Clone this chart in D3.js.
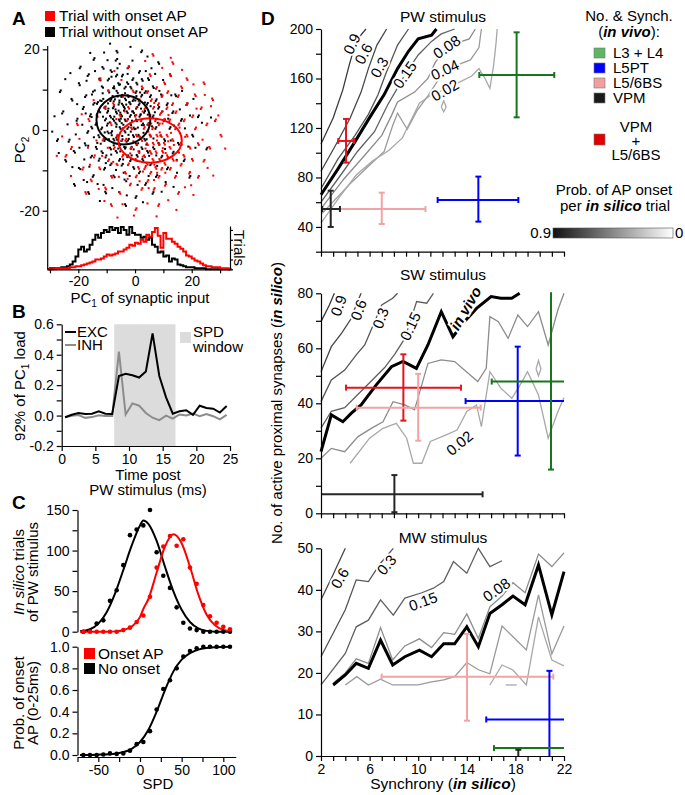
<!DOCTYPE html>
<html>
<head>
<meta charset="utf-8">
<script src="https://cdn.jsdelivr.net/npm/d3@7"></script>
<style>
  body { margin: 0; background: #fff; }
  svg text { font-family: "Liberation Sans", Arial, sans-serif; fill: #000; }
</style>
</head>
<body>
<svg id="fig" width="685" height="795"></svg>
<script>
/* global d3 */

// ---------- panel A : PC1 / PC2 scatter + histograms ----------
const blackPts = `-25.3,4.6 -23.1,-2.4 -22.4,7.7 -21.2,-5.6 -20.6,2.3 -19.8,11.6 -19.3,-9.7 -18.4,5.2 -17.7,-3.3 -17.2,8.6 -16.8,-0.7 -16.3,13.8 -15.9,3.4 -15.6,-6.8 -15.1,0.4 -14.7,6.3 -14.9,-11.6 -14.2,9.8 -13.8,-4.2 -13.6,1.7 -13.1,6.9 -12.8,-7.6 -12.6,12.7 -12.9,-1.3 -12.3,4.4 -11.8,-5.3 -11.7,10.8 -11.9,0.2 -11.5,15.6 -11.2,7.7 -10.8,-2.7 -10.6,2.4 -10.9,-9.8 -10.4,5.8 -10.1,-6.3 -9.9,1.1 -9.6,12.3 -9.8,4.3 -9.3,-0.8 -9.1,9.3 -8.8,-4.4 -8.7,7.2 -8.5,3.1 -8.6,14.8 -8.3,-8.3 -8.1,-0.3 -7.8,5.4 -7.6,-2.2 -7.7,10.4 -7.4,2.3 -7.2,-11.7 -7.1,7.6 -6.8,-5.2 -6.7,13.3 -6.5,1.4 -6.4,4.1 -6.2,-1.4 -6.1,9.2 -6.3,17.6 -5.8,6.3 -5.7,-3.3 -5.6,11.2 -5.4,2.2 -5.3,-7.2 -5.1,0.3 -5.2,4.3 -4.8,8.2 -4.7,-8.8 -4.6,3.4 -4.4,-2.3 -4.3,13.7 -4.2,6.1 -4.1,1.3 -3.8,-4.2 -3.7,10.3 -3.6,5.3 -3.4,-0.6 -3.3,2.2 -3.2,7.4 -3.1,-12.7 -2.8,11.8 -2.7,0.3 -2.6,4.2 -2.4,-6.3 -2.3,8.2 -2.2,-2.2 -2.1,15.7 -1.8,3.3 -1.7,-7.7 -1.6,6.4 -1.4,1.2 -1.3,10.3 -1.2,-4.2 -0.8,7.2 -0.7,-1.3 -0.6,12.8 -0.4,4.2 -0.3,-9.6 -0.2,0.2 0.2,9.2 0.3,-3.3 0.4,5.3 0.6,-6.2 0.7,2.2 0.8,11.3 1.2,-1.2 1.3,6.2 1.4,-10.7 1.6,3.3 1.7,14.6 2.2,8.3 2.3,-4.3 2.4,1.2 2.6,-7.2 2.7,12.2 3.2,4.3 3.3,-2.2 3.4,9.2 3.6,-13.6 4.2,6.3 4.3,-5.2 4.4,1.3 4.6,12.8 5.2,-1.2 5.3,8.2 5.4,-8.7 6.2,3.2 6.3,10.8 6.4,-4.3 7.2,0.3 7.3,7.2 7.4,-11.6 8.2,5.3 8.3,-3.2 9.2,8.8 9.3,-6.8 10.2,2.2 10.3,-2.3 11.2,6.2 11.3,-9.7 12.2,0.3 13.2,4.2 13.3,-5.8 14.2,8.8 15.2,-3.2 16.2,2.3 17.2,-7.7 18.2,6.2 20.2,-1.2 22.2,3.2 -27.2,-2.3 -24.3,-7.8 -19.2,15.7 -14.3,17.8 -6.2,19.2 2.2,19.3 8.2,16.8 12.3,13.8 -21.2,-13.8 -10.2,-15.7 0.2,-16.8 6.2,-15.8 -26.2,9.8 25.2,-4.8 19.2,-11.8 -16.2,-15.8 -3.2,-18.8 -9.4,5.3 -8.2,-1.3 -7.3,3.3 -6.1,8.3 -5.2,-5.3 -4.3,0.4 -3.1,6.3 -2.3,-1.2 -1.1,2.3 0.1,7.3 1.1,-3.3 -11.3,3.3 -6.3,-2.4 -3.3,-4.3 -7.3,10.3 -2.2,8.4 -12.3,7.3 -9.2,-2.3 -5.3,11.3 0.2,0.3 -4.2,-7.3 3.1,1.2 -13.3,-3.2 -8.3,13.2 -1.2,-6.3 -15.3,3.2 -10.3,-8.2 2.1,5.3 -6.2,15.3 4.1,-2.3
-18.6,1.3 -17.4,4.1 -16.5,-3.9 -15.2,8.8 -14.5,-1.8 -13.4,3.9 -12.1,-3.4 -11.4,9.1 -10.7,-0.6 -9.5,6.6 -8.9,1.9 -8.4,-6.1 -7.9,8.4 -7.5,-3.8 -6.9,5.1 -6.6,0.8 -5.9,-4.6 -5.5,7.3 -5.0,2.8 -4.5,-1.5 -3.9,4.8 -3.5,9.1 -3.0,-2.9 -2.5,2.7 -2.0,6.9 -1.5,-0.4 -1.0,4.6 -0.5,-4.8 0.0,3.6 0.5,8.4 1.0,0.6 1.5,-5.3 2.0,3.9 2.5,10.1 3.0,-0.7 3.5,6.8 4.0,-3.6 4.5,3.8 5.0,-6.4 5.5,5.9 6.0,0.9 6.5,-2.1 7.0,4.4 7.5,-6.3 8.0,1.8 8.6,9.7 9.0,-1.4 9.7,4.6 10.6,-4.7 11.7,2.8 12.6,-2.6 13.8,1.1 14.7,-7.4 15.8,5.1 17.6,0.4 19.4,3.6 21.3,-4.4 23.6,1.8 -23.8,1.4 -22.1,-9.2 -20.4,6.4 -19.6,-4.4 -18.1,-12.4 -17.1,12.2 -16.1,-9.1 -14.1,14.6 -13.2,-13.4 -11.1,-13.6 -9.7,17.3 -8.0,-14.4 -6.7,-9.9 -5.4,16.4 -4.0,-10.6 -2.6,13.9 -1.9,-11.4 -0.9,17.2 0.9,-13.6 1.8,9.3 3.8,14.6 4.8,-11.4 5.8,15.3 7.8,-8.9 9.9,12.4 10.8,-12.9 12.8,8.6 14.8,-10.6 16.6,9.7 18.8,-4.1 20.6,7.7 -28.4,3.4 -26.9,-5.7 -24.6,12.6 -22.8,14.1 -10.9,19.2 -1.6,20.6 4.4,18.2 -15.8,19.1 -8.8,21.4 9.4,-15.3 -12.4,-17.6 -5.6,-15.4 2.8,-17.9 13.6,-14.1 26.8,3.1 -29.2,-0.4 -2.9,-16.2 7.1,13.9 -17.9,-7.3 -20.9,-1.1 -16.9,-12.9
-25.7,4.1 -23.4,-2.9 -22.1,7.3 -21.6,-5.2 -20.3,2.8 -19.5,11.1 -19.8,-9.4 -18.1,5.7 -17.4,-3.8 -17.6,8.2 -16.5,-0.3 -16.7,13.4 -15.6,3.9 -15.2,-6.4 -15.4,0.8 -14.3,6.7 -14.6,-11.2 -14.8,9.5 -13.5,-4.7 -13.9,1.3 -13.4,6.5 -12.5,-7.1 -12.2,12.3 -12.6,-1.8 -12.7,4.8 -11.4,-5.7 -11.3,10.5 -11.6,0.6 -11.1,15.2 -11.8,7.2 -10.5,-2.3 -10.2,2.8 -10.6,-9.4 -10.8,5.5 -10.4,-6.8 -9.6,1.6 -9.2,12.7 -9.5,4.7 -9.7,-0.4 -9.4,9.8 -8.5,-4.8 -8.4,7.6 -8.8,3.5 -8.2,14.4 -8.7,-8.7 -8.4,-0.7 -7.5,5.8 -7.3,-2.6 -7.4,10.8 -7.8,2.7 -7.6,-11.3 -7.5,7.1 -6.4,-5.6 -6.3,13.7 -6.9,1.8 -6.7,4.5 -6.6,-1.9 -6.5,9.7 -6.8,17.2 -5.5,6.8 -5.3,-3.7 -5.9,11.6 -5.7,2.6 -5.6,-7.6 -5.4,0.7 -5.8,4.8 -4.5,8.7 -4.3,-8.4 -4.9,3.8 -4.8,-2.7 -4.6,13.3 -4.6,6.5 -4.7,1.7 -3.5,-4.6 -3.3,10.7 -3.9,5.7 -3.7,-0.2 -3.6,2.6 -3.5,7.8 -3.7,-12.3 -2.4,11.4 -2.3,0.7 -2.9,4.6 -2.7,-6.7 -2.6,8.6 -2.5,-2.6 -2.6,15.3 -1.5,3.7 -1.4,-7.3 -1.9,6.8 -1.7,1.6 -1.6,10.7 -1.5,-4.6 -0.5,7.6 -0.4,-1.7 -0.9,12.4 -0.7,4.6 -0.6,-9.2 -0.5,0.6 0.5,9.6 0.6,-3.7 0.8,5.7 0.9,-6.6 0.4,2.6 0.5,11.7 1.5,-1.6 1.6,6.6 1.8,-10.3 1.9,3.7 1.4,14.2 2.5,8.7 2.6,-4.7 2.8,1.6 2.9,-7.6 2.4,12.6 3.5,4.7 3.6,-2.6 3.8,9.6 3.9,-13.2 4.5,6.7 4.6,-5.6 4.8,1.7 4.9,12.4 5.5,-1.6 5.6,8.6 5.8,-8.3 6.5,3.6 6.6,10.4 6.8,-4.7 7.5,0.7 7.6,7.6 7.8,-11.2 8.5,5.7 8.6,-3.6 9.5,8.4 9.6,-6.4 10.5,2.6 10.6,-2.7 11.5,6.6 11.6,-9.3 12.5,0.7 13.5,4.6 13.6,-5.4 14.5,8.4 15.5,-3.6 16.5,2.7 17.5,-7.3 18.5,6.6 20.5,-1.6 22.5,3.6 -27.5,-2.7 -24.6,-7.4 -19.5,15.3 -14.6,17.4 -6.5,19.6 2.5,19.7 8.5,16.4 12.6,13.4 -21.5,-13.4 -10.5,-15.3 0.5,-16.4 6.5,-15.4 -26.5,9.4 25.5,-4.4 19.5,-11.4 -16.5,-15.4 -3.5,-18.4`
const redPts = `-22.3,-4.2 -18.2,-9.3 -16.1,2.2 -15.3,-12.7 -14.2,-6.3 -13.2,3.3 -12.3,-9.7 -11.1,-2.2 -10.2,-14.7 -10.4,5.2 -9.2,-7.3 -8.3,1.2 -8.1,-11.8 -7.2,-4.3 -7.4,6.2 -6.2,-8.7 -6.1,-1.2 -5.2,-15.8 -5.1,3.3 -4.2,-6.2 -4.3,8.2 -3.2,-10.8 -3.1,-2.2 -2.9,2.2 -2.2,-8.3 -2.1,5.3 -1.8,-13.7 -1.2,-4.3 -1.1,0.2 -0.8,9.8 0.2,-7.2 0.3,-11.7 0.1,3.3 0.4,-1.2 1.2,-5.3 1.3,7.2 1.1,-9.2 2.2,-2.3 2.1,2.2 2.3,-14.8 2.4,10.8 3.2,-6.3 3.3,-9.7 3.1,0.3 3.4,5.2 4.2,-3.3 4.1,-8.2 4.3,9.2 4.4,-12.8 4.6,1.2 5.2,-5.2 5.1,3.3 5.3,-1.2 5.4,-10.8 5.6,7.2 5.2,13.8 6.2,-7.2 6.1,0.2 6.3,-3.2 6.4,5.3 6.6,-14.8 7.2,-9.2 7.1,2.2 7.3,-5.3 7.4,10.2 7.6,-1.2 8.2,-3.3 8.1,6.2 8.3,-11.8 8.4,1.2 8.6,-7.2 9.2,4.2 9.1,-1.3 9.3,-9.8 9.4,8.2 9.6,-5.2 10.2,-3.2 10.1,2.3 10.3,11.8 10.4,-8.2 10.6,-13.8 11.2,-1.2 11.1,5.2 11.3,-6.3 11.4,9.2 12.2,-4.2 12.1,2.2 12.3,-9.8 12.4,13.8 13.2,-2.3 13.1,6.2 13.3,-7.2 14.2,0.2 14.1,-11.8 14.3,4.2 15.2,-5.2 15.1,8.2 15.3,1.2 16.2,-3.2 16.1,-8.8 16.3,10.8 17.2,2.2 17.1,-6.2 18.2,-1.2 18.1,6.2 19.2,-4.2 19.1,-10.8 20.2,3.2 20.1,-7.2 21.2,0.2 21.1,8.8 22.2,-3.3 23.2,5.2 24.2,-7.8 25.2,1.2 26.2,-4.2 28.2,2.2 -20.2,1.2 -17.2,-15.8 -8.2,-18.8 0.2,-19.8 8.2,-18.8 15.2,-15.8 22.2,-11.8 18.2,12.8 27.2,7.8 30.2,-1.2 -24.2,-6.2 -12.2,12.8 -2.2,15.8 13.2,16.8 24.2,11.8 6.2,18.8
3.7,-4.6 5.8,-5.9 7.7,-2.6 9.8,-4.5 4.7,-0.4 6.8,-8.6 8.7,-0.6 10.8,-5.7 2.7,-6.6 11.7,-2.8 5.7,1.6 7.8,-10.6 12.7,-0.7 1.7,-1.7 6.7,-12.4 9.7,1.6 13.7,-3.7 3.8,-8.9 8.8,3.8 14.7,-7.6 0.7,-3.6 10.7,-10.6 15.7,0.6 4.8,-14.4 11.8,3.7 -1.7,-5.8 17.7,-1.7 6.8,6.7 2.7,4.6 12.8,-6.7 -9.6,-4.4 -7.7,-7.9 -6.6,2.7 -5.7,-11.6 -4.7,-2.7 -3.6,4.6 -2.6,-12.1 -0.6,-2.8 0.6,5.6 1.6,-12.7 2.8,-10.3 -13.6,-2.6 -11.6,-6.4 -16.6,-4.4 -19.6,-2.2 -12.8,-14.6 -15.9,-8.6 -18.8,3.9 -14.6,7.4 19.8,-13.7 21.7,5.3 23.8,-2.4 25.6,-9.4 26.8,5.9 29.4,3.6 24.6,8.7 20.6,11.3 16.6,14.9 12.6,17.9 9.6,15.4 3.6,17.1 -4.8,12.4 -9.4,9.7 -7.3,14.6 -10.8,-17.6 -4.4,-18.4 4.4,-18.2 11.7,-17.4 17.6,-14.2 20.6,-16.1 -0.4,-21.2 7.6,-21.4 14.6,-19.8 -22.6,-11.4 -25.7,-1.6 -27.6,-6.4 31.8,-4.6 27.6,-11.3 -6.2,-21.7
-22.6,-4.7 -18.5,-9.8 -16.4,2.7 -15.6,-12.3 -14.5,-6.8 -13.5,3.7 -12.6,-9.3 -11.4,-2.6 -10.5,-14.3 -10.7,5.6 -9.5,-7.7 -8.6,1.7 -8.4,-11.4 -7.5,-4.7 -7.7,6.6 -6.5,-8.4 -6.4,-1.6 -5.5,-15.4 -5.4,3.7 -4.5,-6.6 -4.6,8.6 -3.5,-10.4 -3.4,-2.6 -2.6,2.6 -2.5,-8.7 -2.4,5.7 -1.5,-13.3 -1.5,-4.7 -1.4,0.6 -0.5,9.4 0.5,-7.6 0.6,-11.3 0.4,3.7 0.7,-1.6 1.5,-5.7 1.6,7.6 1.4,-9.6 2.5,-2.7 2.4,2.6 2.6,-14.4 2.7,10.4 3.5,-6.7 3.6,-9.3 3.4,0.7 3.7,5.6 4.5,-3.7 4.4,-8.6 4.6,9.6 4.7,-12.4 4.9,1.6 5.5,-5.6 5.4,3.7 5.6,-1.6 5.7,-10.4 5.9,7.6 5.5,13.4 6.5,-7.6 6.4,0.6 6.6,-3.6 6.7,5.7 6.9,-14.4 7.5,-9.6 7.4,2.6 7.6,-5.7 7.7,10.6 7.9,-1.6 8.5,-3.7 8.4,6.6 8.6,-11.4 8.7,1.6 8.9,-7.6 9.5,4.6 9.4,-1.7 9.6,-9.4 9.7,8.6 9.9,-5.6 10.5,-3.6 10.4,2.7 10.6,11.4 10.7,-8.6 10.9,-13.4 11.5,-1.6 11.4,5.6 11.6,-6.7 11.7,9.6 12.5,-4.6 12.4,2.6 12.6,-9.4 12.7,13.4 13.5,-2.7 13.4,6.6 13.6,-7.6 14.5,0.6 14.4,-11.4 14.6,4.6 15.5,-5.6 15.4,8.6 15.6,1.6 16.5,-3.6 16.4,-8.4 16.6,10.4 17.5,2.6 17.4,-6.6 18.5,-1.6 18.4,6.6 19.5,-4.6 19.4,-10.4 20.5,3.6 20.4,-7.6 21.5,0.6 21.4,8.4 22.5,-3.7 23.5,5.6 24.5,-7.4 25.5,1.6 26.5,-4.6 28.5,2.6 -20.5,1.6 -17.5,-15.4 -8.5,-18.4 0.5,-19.4 8.5,-18.4 15.5,-15.4 22.5,-11.4 18.5,12.4 27.5,7.4 30.5,-1.6 -24.5,-6.6 -12.5,12.4 -2.5,15.4 13.5,16.4 24.5,11.4 6.5,18.4`
// ellipses: [centre PC1, centre PC2, radius PC1, radius PC2]
const blackEllipse = [-4.1, 2.5, 9.5, 6.1]
const redEllipse = [5.3, -2.6, 11.2, 5.5]
// histograms, 1-unit bins starting at PC1 = -31
const histStart = -31
const histBlack = [0,1,1,1,1,2,2,3,5,8,13,20,23,18,20,25,30,35,32,37,40,38,43,40,42,37,43,40,35,43,37,35,35,32,33,30,32,25,23,17,18,13,14,8,11,10,5,4,3,2,2,2,1,1,1,1,0,0,0,0,0,0,0,0,0]
const histRed = [0,0,0,1,1,1,1,1,2,2,3,3,4,5,6,7,8,10,10,11,13,15,14,15,16,18,18,20,22,25,24,27,26,30,28,35,33,38,42,34,22,37,31,31,28,26,23,21,18,14,13,11,9,8,6,4,3,3,2,2,2,1,1,1,0]

// ---------- panel B : PC1 loads ----------
const timeB = [0.5,1.5,2.5,3.5,4.5,5.5,6.5,7.5,8.5,9.5,10.5,11.5,12.5,13.5,14.5,15.5,16.5,17.5,18.5,19.5,20.5,21.5,22.5,23.5,24.5]
const excLoad = [-0.011,0.005,0.017,0.010,0.012,0.028,0.012,0.010,0.26,0.275,0.265,0.25,0.29,0.54,0.26,0.12,0.012,0.028,0.035,0.005,0.065,0.05,0.045,0.02,0.063]
const inhLoad = [-0.011,-0.002,0.004,-0.015,-0.01,0.002,-0.002,-0.002,0.42,0.007,0.08,0.065,0.017,-0.014,-0.03,0.0,-0.02,0.007,0.0,0.013,-0.004,0.01,-0.004,-0.025,0.005]
const spdWindow = [7.8, 16.9]

// ---------- panel C : SPD ----------
const spdBins = [-68,-60,-52,-44,-36,-28,-20,-12,-4,4,12,20,28,36,44,52,60,68,76,84,92,100,108]
const trialsNoOnset = [0,0.5,10,14,38,51,82,119,126,131,150,98,69,54,30,11,4,2,0,0,0,0,0]
const trialsOnset = [0,0,0,0,0,0,2,5,12,20,43,79,105,118,106,114,79,59,33,19,11,6,3]
const fitSpd = [-72,-60,-50,-40,-30,-20,-10,0,4,10,20,30,40,50,60,70,80,90,100,110]
const fitNoOnset = [0.5,3,10,24,47,76,106,131,137,133,112,80,50,27,12,4,1,0,0,0]
const fitOnset = [0,0,0,0,0.4,1.8,6.3,18,28,40,73,105,120,109,80,46,21,8,2.3,0.5]
const probOnset = [0,0,0,0.005,0.015,0.01,0.015,0.04,0.1,0.12,0.22,0.42,0.61,0.69,0.8,0.91,0.96,0.985,1,1,1,1,1]
const sigSpd = [-72,-50,-30,-20,-10,0,10,20,30,40,50,60,70,80,90,110]
const sigFit = [0,0.003,0.012,0.027,0.057,0.12,0.23,0.4,0.6,0.77,0.88,0.94,0.973,0.988,0.995,0.999]

// ---------- panel D : contours (synchrony, no. of synapses) ----------
const pwContours = [
  { level: '0.9', pts: [[2,107],[3,128],[3.8,151],[4.3,170],[4.7,184],[5.2,194],[5.7,200]] },
  { level: '0.6', pts: [[2,85],[3.2,106],[4.4,128],[5.3,149],[5.9,168],[6.6,187],[7.4,200]] },
  { level: '0.3', pts: [[2,71],[3.4,95],[4.8,114],[5.9,131],[6.7,147],[7.3,163],[8.3,187],[9.2,200]] },
  { level: '0.15', pts: [[2,60],[3.7,83],[5,101],[6.4,117],[7.5,139],[8.1,149],[8.9,163],[10,179],[11.1,190],[11.9,196],[13,200]] },
  { level: '0.08', pts: [[2.1,56],[3.9,79],[5.6,98],[7,114],[7.8,130],[8.3,141],[9.7,149],[10.8,160],[11.4,173],[12.3,184],[13.3,189],[14.2,192],[14.7,200]] },
  { level: '0.04', pts: [[2.1,51],[4.2,73],[5.9,89],[7.2,101],[7.9,122],[8.3,132],[9.1,119],[9.9,134],[10.8,146],[11.6,158],[12.5,166],[13.5,172],[14.3,175],[15,185],[15.2,200]] },
  { level: '0.02', pts: [[2,43],[3.5,64],[4.9,82],[6.2,93],[7.6,102],[8.7,112],[9.4,126],[10.1,140],[11.1,147],[12.2,151],[13.4,157],[14.4,162],[15,168],[15.5,160],[15.9,152],[16.2,170],[16.4,188],[16.5,200]] },
  { level: '0.02', pts: [[11.9,137],[12.1,133],[12.3,137],[12.1,142],[11.9,137]] }
]
const pwInVivo = [[2,66],[3.4,87],[4.8,109],[6.1,130],[7.2,147],[8.3,168],[9.2,182],[10,192],[11.1,195],[11.5,200]]
const pwLabels = [['0.9',4.55,188,-65],['0.6',5.5,180,-62],['0.3',6.8,169,-60],['0.15',8.9,163,-55],['0.08',12.35,185.5,-35],['0.04',12.2,167,-25],['0.02',12.2,150.5,-30]]

const swContours = [
  { level: '0.9', pts: [[2,69.7],[2.7,75.8],[3.1,80]] },
  { level: '0.6', pts: [[2,51.5],[2.85,60.6],[3.7,65.5],[4.5,70.9],[4.9,75.8],[5.3,80]] },
  { level: '0.3', pts: [[2,40.6],[2.85,48.5],[3.95,52.1],[4.9,57.6],[5.6,61.2],[6.3,68.5],[7,75.8],[7.9,78.2],[8.3,80]] },
  { level: '0.15', pts: [[2,31],[2.85,37.1],[3.95,38.4],[5.05,43.3],[6.14,48.1],[7.24,53],[8.06,57.8],[8.9,63.6],[9.87,77],[10.7,76.4],[11.25,80]] },
  { level: '0.08', pts: [[2,20],[2.85,23.6],[3.95,22.4],[5.05,27.9],[6.14,30.9],[7.1,33.3],[7.93,40.6],[8.9,39.4],[9.7,37.6],[10.8,54.5],[11.9,55.8],[13,55.2],[13.8,52.1],[14.9,47.9],[15.6,52.7],[15.9,71.5],[16.6,69.7],[17.4,63.6],[18.2,72.1],[19,67.9],[19.9,73.3],[20.7,61.2],[21.5,74],[22,80]] },
  { level: '0.02', pts: [[4.4,18.2],[6,27.3],[7.1,30.9],[8.2,32.7],[9.05,27.3],[9.6,18.2],[10.3,18.2],[11,26.1],[12.3,28.5],[13.2,30.3],[14,37],[14.8,39.4],[15.2,31.5],[15.9,51.5],[16.8,45.5],[17.7,41.8],[18.3,46],[19,51.5],[19.9,43],[20.7,27.3],[21.5,37],[22,42]] },
  { level: '0.02', pts: [[19.7,52.5],[19.9,55.5],[20.1,52.5],[19.9,50],[19.7,52.5]] }
]
const swInVivo = [[2,22.4],[2.85,35.8],[3.8,33.3],[4.5,36.4],[5.3,39.4],[6.55,46.7],[7.8,53.3],[8.75,55.2],[9.85,52.7],[10.8,61.2],[11.9,73.3],[12.86,64.2],[13.8,69.7],[14.8,74.5],[16,78.8],[16.8,78.2],[17.7,78.2],[18.35,80]]
const swLabels = [['0.9',3.45,75.5,-70],['0.6',5.1,74,-70],['0.3',6.9,71,-70],['0.15',9.35,68,-65],['0.02',13.4,25.5,-40]]

const mwContours = [
  { level: '0.6', pts: [[2,37.6],[3,43.7],[4,50]] },
  { level: '0.3', pts: [[2,23.9],[4,35.2],[4.9,42.4],[5.9,42],[6.9,46.4],[7.95,50]] },
  { level: '0.15', pts: [[2,17.1],[4,24.7],[4.9,31.1],[5.9,32.7],[6.9,37.6],[7.95,33.9],[8.9,38],[10.3,39.3],[11.25,40.4],[12.1,42],[12.9,46.8],[14,44],[14.95,50],[15.9,45.6],[16.9,47]] },
  { level: '0.08', pts: [[3,17.5],[4,20],[4.9,23.4],[5.9,22.3],[6.9,30.9],[7.9,23.1],[8.9,26.5],[10.1,28.2],[11.1,26.1],[12.1,29.7],[13,29.3],[14,34.2],[14.95,28.3],[15.9,35.9],[16.9,38.5],[17.8,41.7],[18.8,39.3],[19.9,48.6],[21,45.6],[22,48.9]] },
  { level: '0.04', pts: [[4,17.1],[4.95,19.1],[5.9,17.1],[6.9,18.5],[7.9,17.1],[9,17.1],[10,17.1],[11,17.8],[12.1,18.3],[13,19.1],[14,22.5],[15,20.7],[15.9,19.8],[16.9,31.3],[17.8,28.7],[18.9,25.5],[19.9,38.8],[21,24.6],[22,31.3]] },
  { level: '0.02', pts: [[15.9,17.1],[16.9,21.9],[17.8,20.7],[18.9,17.1],[19.9,33.5],[21,23.1],[22,21.7]] },
  { level: '0.02', pts: [[17.2,17.1],[18.1,17.1]] }
]
const mwInVivo = [[3,17.1],[4,19.5],[4.9,22.3],[5.9,21.1],[6.9,27.9],[7.9,21.9],[8.9,23.9],[10.1,25.5],[11.1,23.9],[12.1,27],[13,27],[14,31.1],[14.95,26.3],[15.9,34.3],[16.9,36.4],[17.8,38.5],[18.8,36.4],[19.9,46],[21,34],[22,44.4]]
const mwLabels = [['0.6',3.55,42.8,-60],['0.3',7.4,46,-50],['0.15',10.4,37.2,-20],['0.08',16.45,40,-35]]

// in vivo measurements: group, synchrony (mean, lo, hi), synapses (mean, lo, hi)
const pwBars = [
  { group: 'L3+L4', x: 18.1, xlo: 15.03, xhi: 21.2, y: 162.8, ylo: 128.6, yhi: 197.3 },
  { group: 'L5PT', x: 14.95, xlo: 11.6, xhi: 18.24, y: 61.8, ylo: 44.3, yhi: 80.7 },
  { group: 'L5/6BS', x: 7.0, xlo: 3.56, xhi: 10.6, y: 54.5, ylo: 42.4, yhi: 67.7 },
  { group: 'VPM', x: 2.8, xlo: 2.1, xhi: 3.56, y: 54.5, ylo: 40, yhi: 69.3 },
  { group: 'VPM+L5/6BS', x: 4.06, xlo: 3.42, xhi: 4.72, y: 109.5, ylo: 92, yhi: 127.3 }
]
const swBars = [
  { group: 'VPM+L5/6BS', x: 8.78, xlo: 4.06, xhi: 13.52, y: 45.7, ylo: 33.7, yhi: 57.8 },
  { group: 'L5/6BS', x: 10.0, xlo: 4.94, xhi: 15.14, y: 38.4, ylo: 26.4, yhi: 50.7 },
  { group: 'L5PT', x: 18.19, xlo: 13.9, xhi: 22, y: 40.8, ylo: 21, yhi: 60.6 },
  { group: 'L3+L4', x: 20.93, xlo: 16.05, xhi: 22, y: 47.9, ylo: 15.9, yhi: 80.4 },
  { group: 'VPM', x: 8.04, xlo: 2, xhi: 15.3, y: 6.9, ylo: 0.4, yhi: 13.9 }
]
const mwBars = [
  { group: 'L5/6BS', x: 14.02, xlo: 6.99, xhi: 21.12, y: 19.1, ylo: 8.5, yhi: 29.4 },
  { group: 'L5PT', x: 20.8, xlo: 15.6, xhi: 22, y: 8.8, ylo: 0, yhi: 20.5 },
  { group: 'L3+L4', x: 20.9, xlo: 16.24, xhi: 22, y: 1.9, ylo: 1.9, yhi: 1.9 },
  { group: 'VPM', x: 18.24, xlo: 18.24, xhi: 18.24, y: 0, ylo: 0, yhi: 1.5 }
]
const legendGroups = ['L3 + L4', 'L5PT', 'L5/6BS', 'VPM']

// ---------- styles ----------
const FONT = '"Liberation Sans", Arial, sans-serif'
const barColor = { 'L3+L4': '#17761b', 'L5PT': '#0000ff', 'L5/6BS': '#f2a3a3', 'VPM': '#262626', 'VPM+L5/6BS': '#e3141e' }
const swatchColor = { 'L3 + L4': '#5cb860', 'L5PT': '#0000ff', 'L5/6BS': '#f0a0a0', 'VPM': '#1a1a1a' }
const levelColor = { '0.9': '#3a3a3a', '0.6': '#474747', '0.3': '#555', '0.15': '#606060', '0.08': '#8c8c8c', '0.04': '#9a9a9a', '0.02': '#a8a8a8' }

const svg = d3.select('#fig')

function styleAxis(g, size) {
  g.selectAll('path, line').attr('stroke', '#000').attr('stroke-width', 1.2)
  g.selectAll('text').attr('font-size', size || 14).attr('font-family', FONT).attr('fill', '#000')
  g.attr('font-family', null)
}

function text(x, y, str, opts) {
  opts = opts || {}
  const t = svg.append('text').attr('x', x).attr('y', y).text(str)
    .attr('font-size', opts.size || 15)
    .attr('text-anchor', opts.anchor || 'start')
  if (opts.weight) t.attr('font-weight', opts.weight)
  if (opts.rotate) t.attr('x', 0).attr('y', 0).attr('transform', `translate(${x},${y}) rotate(${opts.rotate})`)
  return t
}

function parsePts(s) {
  return s.trim().split(/\s+/).map(p => p.split(',').map(Number))
}

// panel letters
text(12, 25, 'A', { size: 19, weight: 'bold' })
text(12, 318, 'B', { size: 19, weight: 'bold' })
text(12, 509, 'C', { size: 19, weight: 'bold' })
text(261, 25, 'D', { size: 19, weight: 'bold' })

// ================= A =================
const xA = d3.scaleLinear([-30.8, 33.5], [47.7, 230])
const yA = d3.scaleLinear([-20, 20], [210.7, 49.3])
const yH = d3.scaleLinear([0, 44], [269.3, 226])

const gA = svg.append('g')
gA.selectAll('rect.bk').data(parsePts(blackPts)).join('rect')
  .attr('x', d => xA(d[0]) - 1).attr('y', d => yA(d[1]) - 1)
  .attr('width', 2).attr('height', 2).attr('fill', '#000')
gA.selectAll('rect.rd').data(parsePts(redPts)).join('rect')
  .attr('x', d => xA(d[0]) - 1).attr('y', d => yA(d[1]) - 1)
  .attr('width', 2).attr('height', 2).attr('fill', '#ff0000')

function ellipse(e, color) {
  gA.append('ellipse')
    .attr('cx', xA(e[0])).attr('cy', yA(e[1]))
    .attr('rx', xA(e[0] + e[2]) - xA(e[0])).attr('ry', yA(e[1]) - yA(e[1] + e[3]))
    .attr('fill', 'none').attr('stroke', color).attr('stroke-width', 2)
}
ellipse(blackEllipse, '#000')
ellipse(redEllipse, '#ff0000')

function histPath(counts, color) {
  const pts = counts.map((c, i) => [histStart + i, c])
  pts.push([histStart + counts.length, counts[counts.length - 1]])
  gA.append('path')
    .attr('d', d3.line().x(d => xA(d[0])).y(d => yH(d[1])).curve(d3.curveStepAfter)(pts))
    .attr('fill', 'none').attr('stroke', color).attr('stroke-width', 2)
}
histPath(histBlack, '#000')
histPath(histRed, '#ff0000')

// left axis (ticks only) + spine down to the histogram baseline
const axA = gA.append('g').attr('transform', `translate(${xA(-30.8)},0)`)
  .call(d3.axisLeft(yA).tickValues([-20, -10, 0, 10, 20]).tickFormat(d => d % 20 === 0 ? String(d) : '').tickSize(5).tickSizeOuter(0).tickPadding(3))
axA.select('.domain').remove()
styleAxis(axA)
gA.append('line').attr('x1', xA(-30.8)).attr('x2', xA(-30.8)).attr('y1', 46).attr('y2', yH(0))
  .attr('stroke', '#000').attr('stroke-width', 1.2)
const axAx = gA.append('g').attr('transform', `translate(0,${yH(0)})`)
  .call(d3.axisBottom(xA).tickValues([-30, -20, -10, 0, 10, 20, 30]).tickFormat(d => d % 20 === 0 ? String(d) : '').tickSize(4).tickSizeOuter(0).tickPadding(3))
styleAxis(axAx)
const axAr = gA.append('g').attr('transform', `translate(${xA(33.5)},0)`)
  .call(d3.axisRight(yH).tickValues([0, 10, 20, 30, 40]).tickFormat('').tickSize(3).tickSizeOuter(0))
styleAxis(axAr)
text(234, 248, 'Trials', { rotate: 90, anchor: 'middle' })

// legend A
svg.append('rect').attr('x', 45).attr('y', 11).attr('width', 10).attr('height', 10).attr('fill', '#ff0000')
svg.append('rect').attr('x', 45).attr('y', 27).attr('width', 10).attr('height', 10).attr('fill', '#000')
text(59, 21, 'Trial with onset AP', { size: 15.5 })
text(59, 37, 'Trial without onset AP', { size: 15.5 })

const pc2 = text(25, 150, 'PC', { rotate: -90, anchor: 'middle' })
pc2.append('tspan').attr('font-size', 10).attr('dy', 4).text('2')
const pc1 = text(140, 303, 'PC', { anchor: 'middle' })
pc1.append('tspan').attr('font-size', 10).attr('dy', 4).text('1')
pc1.append('tspan').attr('dy', -4).text(' of synaptic input')

// ================= B =================
const xB = d3.scaleLinear([0, 25], [61.7, 230])
const yB = d3.scaleLinear([-0.2, 0.6], [446, 324.3])
svg.append('rect').attr('x', xB(spdWindow[0])).attr('y', yB(0.6))
  .attr('width', xB(spdWindow[1]) - xB(spdWindow[0])).attr('height', yB(-0.2) - yB(0.6))
  .attr('fill', '#dcdcdc')
const axBy = svg.append('g').attr('transform', `translate(${xB(0)},0)`)
  .call(d3.axisLeft(yB).tickValues(d3.range(-2, 7).map(v => v / 10)).tickFormat(d => Math.round(d * 10) % 2 === 0 ? d.toFixed(1) : '').tickSize(5).tickSizeOuter(0).tickPadding(3))
styleAxis(axBy)
const axBx = svg.append('g').attr('transform', `translate(0,${yB(-0.2)})`)
  .call(d3.axisBottom(xB).tickValues([0, 5, 10, 15, 20, 25]).tickSize(5).tickSizeOuter(0).tickPadding(3))
styleAxis(axBx)
const lineB = d3.line().x((d, i) => xB(timeB[i])).y(d => yB(d))
svg.append('path').attr('d', lineB(inhLoad)).attr('fill', 'none').attr('stroke', '#8c8c8c').attr('stroke-width', 2)
svg.append('path').attr('d', lineB(excLoad)).attr('fill', 'none').attr('stroke', '#000').attr('stroke-width', 2)

svg.append('line').attr('x1', 65).attr('x2', 76).attr('y1', 332).attr('y2', 332).attr('stroke', '#000').attr('stroke-width', 2)
svg.append('line').attr('x1', 65).attr('x2', 76).attr('y1', 345).attr('y2', 345).attr('stroke', '#8c8c8c').attr('stroke-width', 2)
text(77, 337, 'EXC')
text(77, 350, 'INH')
svg.append('rect').attr('x', 180).attr('y', 332).attr('width', 11).attr('height', 11).attr('fill', '#dcdcdc')
text(193, 337, 'SPD')
text(193, 352, 'window')

const ylB = text(25, 386, '92% of PC', { rotate: -90, anchor: 'middle' })
ylB.append('tspan').attr('font-size', 10).attr('dy', 4).text('1')
ylB.append('tspan').attr('dy', -4).text(' load')
text(148, 480, 'Time post', { anchor: 'middle' })
text(148, 495, 'PW stimulus (ms)', { anchor: 'middle' })

// ================= C =================
const xC = d3.scaleLinear([-75, 115], [77.5, 235.8])
const yCt = d3.scaleLinear([0, 150], [631.7, 510])
const yCb = d3.scaleLinear([0, 1], [755, 646.7])

const axCt = svg.append('g').attr('transform', `translate(${xC(-75)},0)`)
  .call(d3.axisLeft(yCt).tickValues(d3.range(0, 151, 25)).tickFormat(d => d % 50 === 0 ? String(d) : '').tickSize(5).tickSizeOuter(0).tickPadding(3))
styleAxis(axCt)
const axCb = svg.append('g').attr('transform', `translate(${xC(-75)},0)`)
  .call(d3.axisLeft(yCb).tickValues([0, 0.2, 0.4, 0.6, 0.8, 1]).tickFormat(d => d.toFixed(1)).tickSize(5).tickSizeOuter(0).tickPadding(3))
styleAxis(axCb)
const axCx = svg.append('g').attr('transform', `translate(0,757)`)
  .call(d3.axisBottom(xC).tickValues([-75, -50, -25, 0, 25, 50, 75, 100]).tickFormat(d => d % 50 === 0 ? String(d) : '').tickSize(5).tickSizeOuter(0).tickPadding(3))
styleAxis(axCx)

const fitLine = (ys, yScale) => d3.line().x(d => xC(d)).y((d, i) => yScale(ys[i])).curve(d3.curveMonotoneX)
svg.append('path').attr('d', fitLine(fitNoOnset, yCt)(fitSpd)).attr('fill', 'none').attr('stroke', '#000').attr('stroke-width', 2)
svg.append('path').attr('d', fitLine(fitOnset, yCt)(fitSpd)).attr('fill', 'none').attr('stroke', '#ff0000').attr('stroke-width', 2)
svg.append('path').attr('d', fitLine(sigFit, yCb)(sigSpd)).attr('fill', 'none').attr('stroke', '#000').attr('stroke-width', 2)

svg.append('g').selectAll('circle').data(spdBins).join('circle')
  .attr('cx', d => xC(d)).attr('cy', (d, i) => yCt(trialsNoOnset[i])).attr('r', 2.3).attr('fill', '#000')
svg.append('g').selectAll('circle').data(spdBins).join('circle')
  .attr('cx', d => xC(d)).attr('cy', (d, i) => yCt(trialsOnset[i])).attr('r', 2.3).attr('fill', '#ff0000')
svg.append('g').selectAll('circle').data(spdBins).join('circle')
  .attr('cx', d => xC(d)).attr('cy', (d, i) => yCb(probOnset[i])).attr('r', 2.3).attr('fill', '#000')

svg.append('rect').attr('x', 84).attr('y', 648).attr('width', 11).attr('height', 11).attr('fill', '#ff0000')
svg.append('rect').attr('x', 84).attr('y', 663).attr('width', 11).attr('height', 11).attr('fill', '#000')
text(98, 659, 'Onset AP', { size: 15.5 })
text(98, 674, 'No onset', { size: 15.5 })

const ylC1 = svg.append('text').attr('transform', 'translate(24,572) rotate(-90)').attr('text-anchor', 'middle').attr('font-size', 15)
ylC1.append('tspan').attr('font-style', 'italic').text('In silico')
ylC1.append('tspan').text(' trials')
text(38, 572, 'of PW stimulus', { rotate: -90, anchor: 'middle' })
text(24, 703, 'Prob. of onset', { rotate: -90, anchor: 'middle' })
text(38, 703, 'AP (0-25ms)', { rotate: -90, anchor: 'middle' })
text(158, 789, 'SPD', { anchor: 'middle' })

// ================= D =================
const xD = d3.scaleLinear([2, 22], [321, 564])
const panels = [
  { title: 'PW stimulus', titleY: 22, y: d3.scaleLinear([20, 200], [251.7, 29]), ticks: d3.range(20, 201, 20), labelled: d => d % 40 === 0, contours: pwContours, inVivo: pwInVivo, labels: pwLabels, bars: pwBars },
  { title: 'SW stimulus', titleY: 280, y: d3.scaleLinear([0, 80], [513.3, 293.3]), ticks: d3.range(0, 81, 10), labelled: d => d % 20 === 0, contours: swContours, inVivo: swInVivo, labels: swLabels, bars: swBars },
  { title: 'MW stimulus', titleY: 543, y: d3.scaleLinear([0, 50], [756, 548.3]), ticks: d3.range(0, 51, 10), labelled: () => true, contours: mwContours, inVivo: mwInVivo, labels: mwLabels, bars: mwBars, xLabels: true }
]

panels.forEach(p => {
  const g = svg.append('g')
  const y = p.y
  const line = d3.line().x(d => xD(d[0])).y(d => y(d[1]))
  g.selectAll('path.c').data(p.contours).join('path')
    .attr('d', d => line(d.pts)).attr('fill', 'none')
    .attr('stroke', d => levelColor[d.level]).attr('stroke-width', 1.3)
  g.append('path').attr('d', line(p.inVivo)).attr('fill', 'none').attr('stroke', '#000').attr('stroke-width', 3)

  g.selectAll('text.lab').data(p.labels).join('text')
    .attr('transform', d => `translate(${xD(d[1])},${y(d[2])}) rotate(${d[3]})`)
    .attr('text-anchor', 'middle').attr('dy', '0.35em').attr('font-size', 15)
    .attr('stroke', '#fff').attr('stroke-width', 4).attr('paint-order', 'stroke')
    .text(d => d[0])

  const [y0, y1] = y.domain()
  p.bars.forEach(b => {
    const c = barColor[b.group]
    const bg = g.append('g').attr('stroke', c).attr('stroke-width', 2)
    if (b.xhi > b.xlo) {
      bg.append('line').attr('x1', xD(b.xlo)).attr('x2', xD(b.xhi)).attr('y1', y(b.y)).attr('y2', y(b.y))
      if (b.xlo > 2) bg.append('line').attr('x1', xD(b.xlo)).attr('x2', xD(b.xlo)).attr('y1', y(b.y) - 3).attr('y2', y(b.y) + 3)
      if (b.xhi < 22) bg.append('line').attr('x1', xD(b.xhi)).attr('x2', xD(b.xhi)).attr('y1', y(b.y) - 3).attr('y2', y(b.y) + 3)
    }
    if (b.yhi > b.ylo) {
      bg.append('line').attr('x1', xD(b.x)).attr('x2', xD(b.x)).attr('y1', y(b.ylo)).attr('y2', y(b.yhi))
      if (b.ylo > y0) bg.append('line').attr('x1', xD(b.x) - 3).attr('x2', xD(b.x) + 3).attr('y1', y(b.ylo)).attr('y2', y(b.ylo))
      if (b.yhi < y1) bg.append('line').attr('x1', xD(b.x) - 3).attr('x2', xD(b.x) + 3).attr('y1', y(b.yhi)).attr('y2', y(b.yhi))
    }
  })

  const ay = g.append('g').attr('transform', `translate(${xD(2)},0)`)
    .call(d3.axisLeft(y).tickValues(p.ticks).tickFormat(d => p.labelled(d) ? String(d) : '').tickSize(5).tickSizeOuter(0).tickPadding(3))
  styleAxis(ay)
  const ax = g.append('g').attr('transform', `translate(0,${y(y0)})`)
    .call(d3.axisBottom(xD).tickValues(d3.range(2, 23)).tickFormat(d => p.xLabels && (d - 2) % 4 === 0 ? String(d) : '').tickSize(5).tickSizeOuter(0).tickPadding(3))
  styleAxis(ax)

  text(443, p.titleY, p.title, { size: 15.5, anchor: 'middle' })
})

// in vivo label on SW contour
svg.append('text')
  .attr('transform', `translate(${xD(13.9)},${panels[1].y(74.5)}) rotate(-60)`)
  .attr('text-anchor', 'middle').attr('dy', '0.35em').attr('font-size', 15)
  .attr('font-weight', 'bold').attr('font-style', 'italic')
  .attr('stroke', '#fff').attr('stroke-width', 4).attr('paint-order', 'stroke')
  .text('in vivo')

const ylD = svg.append('text').attr('transform', 'translate(282,403) rotate(-90)').attr('text-anchor', 'middle').attr('font-size', 15)
ylD.append('tspan').text('No. of active proximal synapses (')
ylD.append('tspan').attr('font-weight', 'bold').attr('font-style', 'italic').text('in silico')
ylD.append('tspan').text(')')

const xlD = svg.append('text').attr('x', 443).attr('y', 789).attr('text-anchor', 'middle').attr('font-size', 15.5)
xlD.append('tspan').text('Synchrony (')
xlD.append('tspan').attr('font-weight', 'bold').attr('font-style', 'italic').text('in silico')
xlD.append('tspan').text(')')

// legend D
text(629, 21, 'No. & Synch.', { anchor: 'middle' })
const lvv = svg.append('text').attr('x', 629).attr('y', 37).attr('text-anchor', 'middle').attr('font-size', 15)
lvv.append('tspan').text('(')
lvv.append('tspan').attr('font-weight', 'bold').attr('font-style', 'italic').text('in vivo')
lvv.append('tspan').text('):')
legendGroups.forEach((gname, i) => {
  svg.append('rect').attr('x', 594).attr('y', 48 + i * 15).attr('width', 11).attr('height', 10)
    .attr('fill', swatchColor[gname]).attr('stroke', '#777').attr('stroke-width', 0.6)
  text(613, 58 + i * 15, gname)
})
svg.append('rect').attr('x', 594).attr('y', 134).attr('width', 11).attr('height', 11)
  .attr('fill', '#e00000').attr('stroke', '#777').attr('stroke-width', 0.6)
text(636, 132, 'VPM', { anchor: 'middle' })
text(636, 146, '+', { anchor: 'middle' })
text(636, 160, 'L5/6BS', { anchor: 'middle' })

// colour bar
const grad = svg.append('defs').append('linearGradient').attr('id', 'probGrad')
grad.append('stop').attr('offset', '0%').attr('stop-color', '#111')
grad.append('stop').attr('offset', '100%').attr('stop-color', '#fff')
text(614, 195, 'Prob. of AP onset', { anchor: 'middle' })
const lps = svg.append('text').attr('x', 615).attr('y', 211).attr('text-anchor', 'middle').attr('font-size', 15)
lps.append('tspan').text('per ')
lps.append('tspan').attr('font-weight', 'bold').attr('font-style', 'italic').text('in silico')
lps.append('tspan').text(' trial')
svg.append('rect').attr('x', 553).attr('y', 228).attr('width', 120).attr('height', 10)
  .attr('fill', 'url(#probGrad)').attr('stroke', '#555').attr('stroke-width', 0.6)
text(551, 238, '0.9', { anchor: 'end' })
text(675, 238, '0')
</script>
</body>
</html>
